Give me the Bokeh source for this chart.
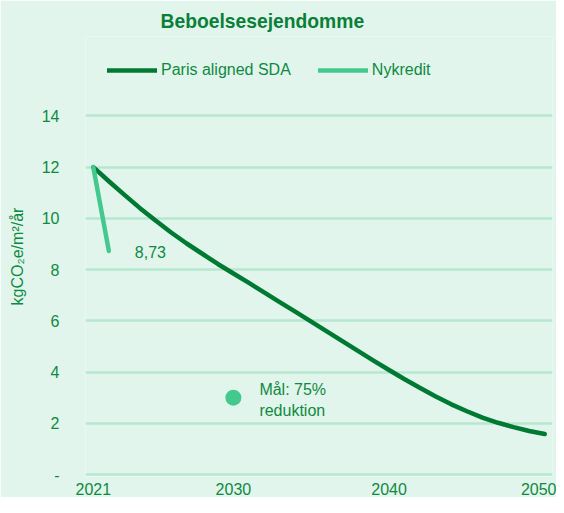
from bokeh.plotting import figure
from bokeh.models import Range1d, FixedTicker, Legend, LegendItem
from bokeh.core.properties import value
from bokeh.embed import file_html
from bokeh.resources import INLINE

# ---- data ----
years = list(range(2021, 2051))
paris_sda = [12.00, 11.45, 10.92, 10.40, 9.92, 9.45, 9.02, 8.62, 8.22, 7.85,
             7.48, 7.10, 6.72, 6.35, 5.97, 5.59, 5.21, 4.83, 4.45, 4.08,
             3.72, 3.38, 3.05, 2.74, 2.47, 2.22, 2.02, 1.85, 1.70, 1.58]
nykredit_years = [2021, 2022]
nykredit = [12.0, 8.73]
nykredit_label = ["8,73"]
target_year = [2030]
target_value = [3.0]
target_label = ["Mål: 75%\nreduktion"]
x_ticks = [2021, 2030, 2040, 2050]
x_tick_labels = ["2021", "2030", "2040", "2050"]
y_ticks = [0, 2, 4, 6, 8, 10, 12, 14]
y_tick_labels = ["-", "2", "4", "6", "8", "10", "12", "14"]
y_title = "kgCO₂e/m²/år"

BG = "#E1F5EC"
GRID = "#B6E7CF"
DARK = "#007A33"
LIGHT = "#43C98D"
TXT = "#0E8A40"
TITLE_C = "#0A7F38"
FONT = "Liberation Sans"

p = figure(width=556, height=497, output_backend="svg", toolbar_location=None,
           title="Beboelsesejendomme",
           x_range=Range1d(2020.5, 2050.5), y_range=Range1d(-0.0776, 17.1025),
           min_border_left=85, min_border_right=4, min_border_top=36, min_border_bottom=18)
p.background_fill_color = BG
p.border_fill_color = BG
p.outline_line_color = None

p.title.align = "left"
p.title.offset = 75
p.title.text_font = FONT
p.title.text_font_size = "19.3px"
p.title.text_font_style = "bold"
p.title.text_color = TITLE_C

# axes
p.xaxis.ticker = FixedTicker(ticks=x_ticks)
p.xaxis.major_label_overrides = {float(t): l for t, l in zip(x_ticks, x_tick_labels)}
p.yaxis.ticker = FixedTicker(ticks=y_ticks)
p.yaxis.major_label_overrides = {float(t): l for t, l in zip(y_ticks, y_tick_labels)}
for ax in (p.xaxis[0], p.yaxis[0]):
    ax.axis_line_color = None
    ax.major_tick_line_color = None
    ax.minor_tick_line_color = None
    ax.major_label_text_color = TXT
    ax.major_label_text_font = FONT
    ax.major_label_text_font_size = "16px"
p.xaxis.major_label_standoff = 0
p.yaxis.major_label_standoff = 20
p.yaxis.axis_label = y_title
p.yaxis.axis_label_text_font = FONT
p.yaxis.axis_label_text_font_size = "16px"
p.yaxis.axis_label_text_font_style = "normal"
p.yaxis.axis_label_text_color = TXT
p.yaxis.axis_label_standoff = 13

p.xgrid.grid_line_color = None
p.ygrid.ticker = FixedTicker(ticks=y_ticks)
p.ygrid.grid_line_color = GRID
p.ygrid.grid_line_width = 2.5

# glyphs
r_paris = p.line(years, paris_sda, line_color=DARK, line_width=4.5, line_cap="round", line_join="round")
r_nyk = p.line(nykredit_years, nykredit, line_color=LIGHT, line_width=4.5, line_cap="round", line_join="round")
p.scatter(target_year, target_value, size=16, fill_color=LIGHT, line_color=None)
p.text([nykredit_years[-1]], [nykredit[-1]], text=nykredit_label, x_offset=26, y_offset=1,
       text_baseline="middle", text_align="left", text_color=TXT,
       text_font=value(FONT), text_font_size="16px")
p.text(target_year, target_value, text=target_label, x_offset=26, y_offset=2,
       text_baseline="middle", text_align="left", text_color=TXT, text_line_height=1.25,
       text_font=value(FONT), text_font_size="16px")

legend = Legend(items=[LegendItem(label="Paris aligned SDA", renderers=[r_paris]),
                       LegendItem(label="Nykredit", renderers=[r_nyk])],
                orientation="horizontal", location=(22, 396),
                glyph_width=50, glyph_height=20, label_standoff=4, spacing=27,
                label_text_font=FONT, label_text_font_size="16px", label_text_color=TXT,
                background_fill_alpha=0, border_line_color=None,
                padding=11, margin=0)
p.add_layout(legend)

open("out.html", "w").write(file_html(p, INLINE))
